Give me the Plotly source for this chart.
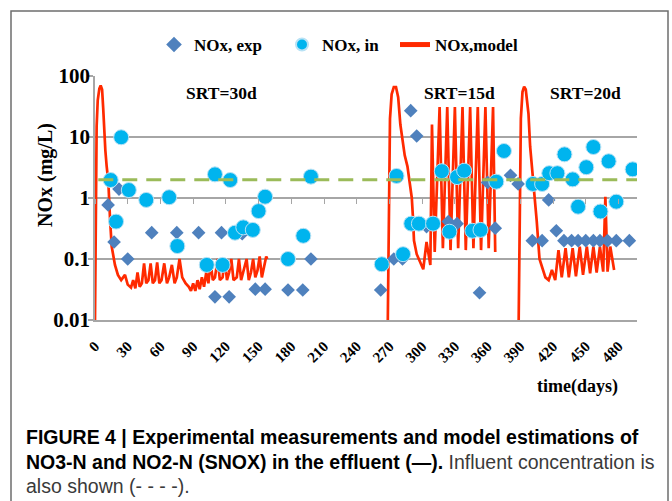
import plotly.graph_objects as go

# ---- data -------------------------------------------------------------
# measured effluent NOx (diamonds)
exp_days = [12, 17.5, 22, 30, 52, 75, 95, 110, 116, 123, 135, 147, 156, 177, 190.5, 198,
            262, 274, 282, 289.5, 295, 304, 324, 332, 352.6, 360, 367, 381, 388,
            401, 410, 416, 423, 430, 437, 443, 450, 457, 463, 470, 478, 490]
exp_nox = [0.77, 0.19, 1.4, 0.1, 0.27, 0.27, 0.27, 0.024, 0.27, 0.024, 0.26, 0.032, 0.032, 0.031, 0.031, 0.1,
           0.031, 0.1, 0.1, 27, 10.4, 0.34, 0.41, 0.38, 0.028, 1.8, 0.32, 2.35, 1.7,
           0.2, 0.2, 0.93, 0.29, 0.2, 0.2, 0.2, 0.2, 0.2, 0.2, 0.2, 0.2, 0.2]

# influent NOx (circles)
in_days = [14.4, 19.3, 24, 31, 47, 68, 75.5, 102.5, 110, 117, 124, 128.4, 136, 144.7, 150, 156,
           177, 191, 198, 263, 276.5, 282.5, 290, 297, 310, 318, 325, 332, 338.5, 346, 353.5,
           368, 375, 401.5, 410, 416.5, 424, 430.5, 438, 443, 450.5, 457, 463.5, 471, 478, 493]
in_nox = [1.97, 0.41, 9.9, 1.35, 0.93, 1.03, 0.163, 0.08, 2.44, 0.08, 1.97, 0.27, 0.33, 0.30, 0.61, 1.05,
          0.1, 0.24, 2.24, 0.082, 2.3, 0.12, 0.38, 0.38, 0.38, 2.75, 0.28, 2.2, 2.8, 0.29, 0.3,
          1.85, 5.9, 1.7, 1.7, 2.55, 2.55, 5.2, 2.02, 0.72, 3.2, 6.85, 0.6, 4.0, 0.87, 2.95]

# model, SRT = 30 d
model1_days = [0, 0.8, 1.5, 2.5, 4, 5.2, 6.5, 7.5, 8.5, 9.5, 10.7, 12.2, 13.8, 15.3, 18.3, 21, 24,
               27.5, 30, 33, 35, 37, 39, 41, 43, 45, 47, 49, 51, 53, 55, 57, 59, 61, 63.5, 66,
               68, 70.5, 73, 75, 77.5, 80, 83, 86, 88, 90, 92, 94, 96, 98, 100, 102, 104, 106,
               108, 110, 112.5, 114.5, 117, 119, 121, 123, 125, 127, 130, 132, 134, 136, 139,
               141, 143, 145, 147, 149, 151, 153, 155, 157, 158]
model1_nox = [0.01, 3, 15, 40, 62, 70, 60, 30, 12, 6, 3.3, 1.9, 0.45, 0.16, 0.08, 0.055, 0.045,
              0.055, 0.038, 0.034, 0.045, 0.033, 0.06, 0.035, 0.04, 0.085, 0.04, 0.045, 0.085, 0.04, 0.045, 0.088, 0.04, 0.045, 0.085, 0.04,
              0.05, 0.08, 0.04, 0.05, 0.1, 0.05, 0.04, 0.035, 0.03, 0.04, 0.03, 0.045, 0.032, 0.05, 0.035, 0.06, 0.04, 0.09,
              0.045, 0.05, 0.1, 0.045, 0.05, 0.1, 0.045, 0.06, 0.1, 0.045, 0.05, 0.1, 0.045, 0.06, 0.1,
              0.045, 0.06, 0.1, 0.05, 0.065, 0.11, 0.05, 0.07, 0.11, 0.1]

# model, SRT = 15 d
model2_days = [268.5, 269.5, 270.5, 272, 274, 276, 278, 280, 282, 284, 286.5, 289, 290.5, 291.5,
               292.5, 295, 298, 301, 304, 307.5, 309, 311.5, 316, 319, 323, 326, 330, 333, 337,
               340, 344, 347, 351, 354, 358, 361, 365, 367]
model2_nox = [0.01, 0.5, 20, 50, 66, 66, 45, 16, 8, 5, 3.3, 1.6, 1.0, 0.5,
              0.2, 0.12, 0.09, 0.068, 0.19, 0.08, 16, 0.13, 31, 0.15, 31, 0.14, 31, 0.15, 31,
              0.14, 31, 0.15, 31, 0.14, 31, 0.15, 31, 0.13]

# model, SRT = 20 d
model3_days = [388.5, 389.5, 390.5, 392, 393.5, 395, 397.5, 399, 402, 405, 407.6, 411, 413, 416,
               419, 422, 425, 428, 431.5, 434.5, 438, 441, 444.5, 447.5, 451, 454, 457, 460,
               463, 466, 468, 470, 472.5, 476]
model3_nox = [0.01, 0.5, 20, 55, 67, 60, 24, 7, 2.0, 0.43, 0.1, 0.066, 0.05, 0.045,
              0.066, 0.045, 0.14, 0.05, 0.15, 0.05, 0.15, 0.052, 0.16, 0.055, 0.16, 0.058, 0.16, 0.06,
              0.16, 0.062, 1.05, 0.062, 0.16, 0.066]

# influent concentration level
influent_days = [3, 497]
influent_nox = [2.0, 2.0]

srt_labels = ["SRT=30d", "SRT=15d", "SRT=20d"]
srt_days = [115.6, 333.8, 449.7]

x_ticks = list(range(0, 481, 30))
y_ticks = [0.01, 0.1, 1, 10, 100]
y_tick_text = ["0.01", "0.1", "1", "10", "100"]

# ---- layout geometry ---------------------------------------------------
W, H = 672, 501
ML, MR, MT, MB = 95, 35, 76, 181
PW, PH = W - ML - MR, H - MT - MB


def px_x(px):
    return (px - ML) / PW


def px_y(py):
    return (H - MB - py) / PH


SERIF = "Liberation Serif, Times New Roman, serif"
SANS = "Liberation Sans, Arial, sans-serif"
GRID = "#A6A6A6"

model_days = model1_days + [None] + model2_days + [None] + model3_days
model_nox = model1_nox + [None] + model2_nox + [None] + model3_nox

fig = go.Figure()
fig.add_trace(go.Scatter(x=model_days, y=model_nox, mode="lines", name="NOx,model",
                         line=dict(color="#FF2A00", width=2.7), legend="legend3",
                         connectgaps=False))
fig.add_trace(go.Scatter(x=influent_days, y=influent_nox, mode="lines", xaxis="x2",
                         line=dict(color="#9BBB59", width=3, dash="15px,9px"),
                         showlegend=False))
fig.add_trace(go.Scatter(x=exp_days, y=exp_nox, mode="markers", name="NOx, exp",
                         marker=dict(symbol="diamond", size=10.5, color="#4F81BD",
                                     line=dict(width=0)), legend="legend"))
fig.add_trace(go.Scatter(x=in_days, y=in_nox, mode="markers", name="NOx, in",
                         marker=dict(symbol="circle", size=15, color="#00B4EE",
                                     line=dict(width=1, color="#B8E2F5")), legend="legend2"))

leg_common = dict(orientation="h", yanchor="middle", y=px_y(45), xanchor="left",
                  font=dict(family=SERIF, size=17, color="black", weight="bold"),
                  bgcolor="rgba(0,0,0,0)", borderwidth=0, itemsizing="constant")

annotations = []
for lab, d in zip(srt_labels, srt_days):
    annotations.append(dict(x=d, y=px_y(93), xref="x", yref="paper", text=lab,
                            showarrow=False, xanchor="center", yanchor="middle",
                            font=dict(family=SERIF, size=17.5, color="black", weight="bold")))
annotations.append(dict(x=px_x(577), y=px_y(386), xref="paper", yref="paper",
                        text="time(days)", showarrow=False, xanchor="center", yanchor="middle",
                        font=dict(family=SERIF, size=18, color="black", weight="bold")))
annotations.append(dict(x=px_x(45), y=px_y(175), xref="paper", yref="paper",
                        text="NOx (mg/L)", textangle=-90, showarrow=False,
                        xanchor="center", yanchor="middle",
                        font=dict(family=SERIF, size=20, color="black", weight="bold")))

caption = [
    ("<b>FIGURE 4 | Experimental measurements and model estimations of</b>", 437),
    ("<b>NO3-N and NO2-N (SNOX) in the effluent (—).</b>"
     "<span style='color:#3a3a3a'> Influent concentration is</span>", 462),
    ("<span style='color:#3a3a3a'>also shown (- - - -).</span>", 486),
]
for txt, yy in caption:
    annotations.append(dict(x=px_x(24), y=px_y(yy), xref="paper", yref="paper", text=txt,
                            showarrow=False, xanchor="left", yanchor="middle",
                            font=dict(family=SANS, size=19.5, color="black")))

fig.update_layout(
    width=W, height=H,
    margin=dict(l=ML, r=MR, t=MT, b=MB, pad=0),
    paper_bgcolor="white", plot_bgcolor="white",
    legend=dict(x=px_x(154), **leg_common),
    legend2=dict(x=px_x(282), **leg_common),
    legend3=dict(x=px_x(395), **leg_common),
    xaxis=dict(range=[0, 497], tickvals=x_ticks, ticktext=[str(t) for t in x_ticks],
               tickangle=-45, ticks="", showgrid=False, zeroline=False,
               showline=True, linecolor=GRID, linewidth=1.5, ticklabelstandoff=10,
               tickfont=dict(family=SERIF, size=15, color="black", weight="bold")),
    xaxis2=dict(overlaying="x", anchor="free", position=0.5, side="bottom",
                range=[0, 497], tickvals=x_ticks, ticks="outside", ticklen=5,
                tickcolor=GRID, tickwidth=1.2, showticklabels=False, showgrid=False,
                showline=False, zeroline=False),
    yaxis=dict(type="log", range=[-2, 2], tickvals=y_ticks, ticktext=y_tick_text,
               showgrid=True, gridcolor=GRID, gridwidth=1.5, zeroline=False,
               showline=True, linecolor=GRID, linewidth=1.5,
               ticks="outside", ticklen=5, tickcolor=GRID, tickwidth=1.5,
               ticklabelstandoff=-6,
               tickfont=dict(family=SERIF, size=21, color="black", weight="bold")),
    annotations=annotations,
    shapes=[dict(type="rect", xref="paper", yref="paper",
                 x0=px_x(11), x1=px_x(668), y0=px_y(540), y1=px_y(11),
                 line=dict(color="#6E6E6E", width=1.5), fillcolor="rgba(0,0,0,0)",
                 layer="below")],
    showlegend=True,
)

fig.write_html("out.html")
